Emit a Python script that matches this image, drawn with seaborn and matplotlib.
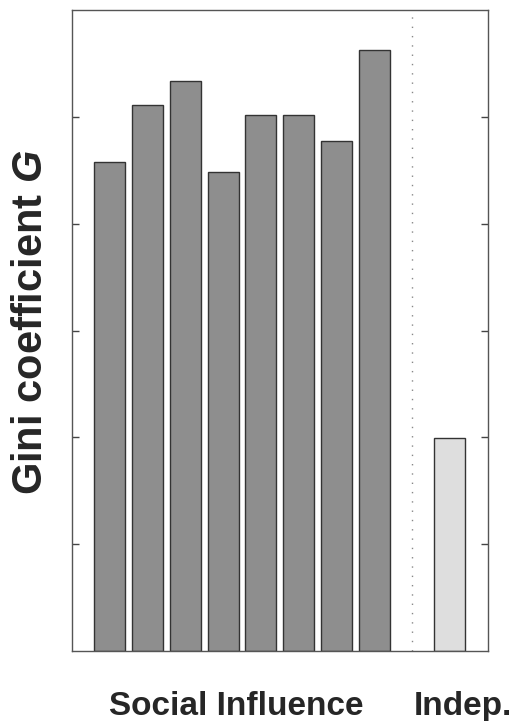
import pandas as pd
import seaborn as sns
import matplotlib.pyplot as plt

# Gini coefficient per world
social_worlds = ["1", "2", "3", "4", "5", "6", "7", "8"]
social_gini = [0.458, 0.511, 0.534, 0.448, 0.502, 0.502, 0.477, 0.563]
indep_gini = [0.199]
group_labels = ["Social Influence", "Indep."]
y_ticks = [0.1, 0.2, 0.3, 0.4, 0.5]

sns.set_theme(style="white")
plt.rcParams["font.family"] = ["Liberation Sans", "DejaVu Sans"]
plt.rcParams["mathtext.fontset"] = "custom"
plt.rcParams["mathtext.bfit"] = "Liberation Sans:italic:bold"

# positions 0..7 for social worlds, 9 for the independent world
df = pd.DataFrame({
    "pos": list(range(len(social_gini))) + [len(social_gini) + 1],
    "gini": social_gini + indep_gini,
    "group": [group_labels[0]] * len(social_gini) + [group_labels[1]],
})

fig = plt.figure(figsize=(5.14, 7.21), dpi=100)
ax = fig.add_axes([0.140, 0.097, 0.809, 0.889])

sns.barplot(data=df, x="pos", y="gini", hue="group", native_scale=True,
            palette={group_labels[0]: "#8e8e8e", group_labels[1]: "#dedede"},
            width=0.82, edgecolor="#333333", linewidth=1.0, legend=False, ax=ax)

ax.axvline(len(social_gini), color="#888888", linestyle=(0, (1, 5.7)), linewidth=1.0)

ax.set_xlim(-1, len(social_gini) + 2)
ax.set_ylim(0, 0.6)
ax.set_yticks(y_ticks)
ax.set_yticklabels([])
ax.set_xticks([])
ax.tick_params(axis="y", direction="in", length=5, width=1, color="#444444",
               left=True, right=True)
for s in ax.spines.values():
    s.set_color("#555555")
    s.set_linewidth(1.0)

ax.set_xlabel("")
ax.set_ylabel(r"Gini coefficient $\mathbfit{G}$", fontsize=30, fontweight="bold")
ax.yaxis.set_label_coords(-0.05, 0.513)

trans = ax.get_xaxis_transform()
ax.text(3.34, -0.0998, group_labels[0], transform=trans, ha="center", va="baseline",
        fontsize=24, fontweight="bold")
ax.text(9.35, -0.0998, group_labels[1], transform=trans, ha="center", va="baseline",
        fontsize=24, fontweight="bold")

fig.savefig("out.png", dpi=100)
